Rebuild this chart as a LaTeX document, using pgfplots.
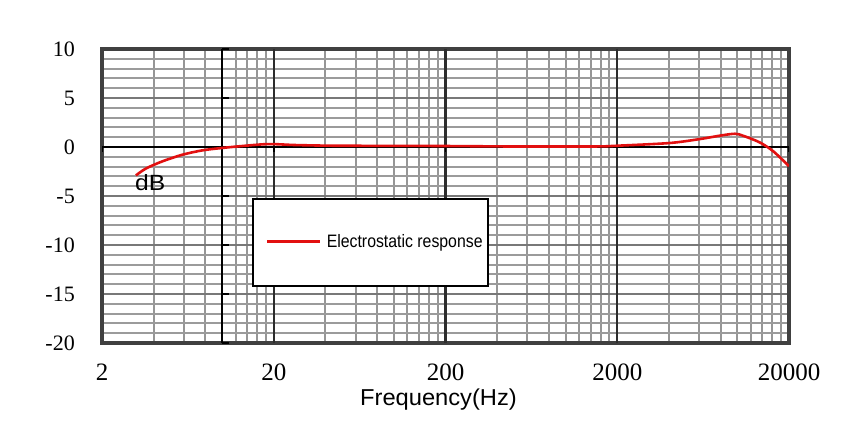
\documentclass[border=0pt]{standalone}
\usepackage{fontspec}
\setmainfont{Liberation Serif}
\newfontfamily\arialF{Liberation Sans}[FakeStretch=1.03]
\newfontfamily\arialW{Liberation Sans}[FakeStretch=1.12]
\newfontfamily\arialN{Liberation Sans}[FakeStretch=0.88]
\usepackage{pgfplots}
\pgfplotsset{compat=1.18}
\definecolor{curvered}{RGB}{226,16,16}
\definecolor{framegray}{RGB}{64,64,64}
\definecolor{majx}{RGB}{45,45,45}
\definecolor{minx}{RGB}{150,150,150}
\definecolor{majy}{RGB}{120,120,120}
\definecolor{miny}{RGB}{155,155,155}
\begin{document}
\begin{tikzpicture}
\useasboundingbox (0,0) rectangle (854pt,437pt);
\begin{axis}[
  at={(102pt,94pt)}, anchor=south west,
  scale only axis, width=687pt, height=294pt,
  xmode=log, xmin=2, xmax=20000, ymin=-20, ymax=10,
  xtick={2,20,200,2000,20000},
  xticklabels={2,20,200,2000,20000},
  minor xtick={4,6,8,10,12,14,16,18,40,60,80,100,120,140,160,180,400,600,800,1000,1200,1400,1600,1800,4000,6000,8000,10000,12000,14000,16000,18000},
  ytick={-20,-15,-10,-5,0,5,10},
  minor ytick={-19,-18,-17,-16,-14,-13,-12,-11,-9,-8,-7,-6,-4,-3,-2,-1,1,2,3,4,6,7,8,9},
  grid=both,
  major x grid style={draw=none},
  minor x grid style={draw=minx, line width=2pt},
  major y grid style={draw=majy, line width=2pt},
  minor y grid style={draw=miny, line width=2pt},
  major tick length=0pt, minor tick length=0pt,
  tick style={draw=none},
  axis line style={draw=framegray, line width=4pt},
  /pgf/number format/assume math mode=true,
  xticklabel style={font=\fontsize{25}{30}\selectfont, anchor=base, yshift=-37pt, inner sep=0pt},
  yticklabel style={font=\fontsize{22}{26}\selectfont, anchor=east, xshift=-27pt, inner sep=0pt},
  xlabel={Frequency(Hz)},
  xlabel style={at={(axis description cs:0.4898,0)}, anchor=base, yshift=-62pt, inner sep=0pt, font=\arialF\fontsize{23}{27}\selectfont},
  legend style={draw=none, fill=none, inner sep=0pt, at={(0.2387,0.3446)}, anchor=west,
    nodes={inner sep=0pt, font=\arialN\fontsize{18}{22}\selectfont},
    /tikz/every odd column/.append style={column sep=5pt}},
  legend image code/.code={\draw[#1, line width=2.6pt] (0pt,0pt) -- (53pt,0pt);},
]
% decade grid lines on top of the fine grid
\draw[majx, line width=2.2pt] (axis cs:20,-20) -- (axis cs:20,10);
\draw[majx, line width=2.2pt] (axis cs:200,-20) -- (axis cs:200,10);
\draw[majx, line width=2.2pt] (axis cs:2000,-20) -- (axis cs:2000,10);
% axis lines crossing at x=10 and y=0
\draw[black, line width=1.5pt] (axis cs:2,0) -- (axis cs:20000,0);
\draw[black, line width=1.5pt] (axis cs:2,0) -- ++(0pt,-5pt);
\draw[black, line width=1.5pt] (axis cs:20,0) -- ++(0pt,-5pt);
\draw[black, line width=1.5pt] (axis cs:200,0) -- ++(0pt,-5pt);
\draw[black, line width=1.5pt] (axis cs:20000,0) -- ++(0pt,-5pt);
\draw[black, line width=1.5pt] (axis cs:10,-20) -- (axis cs:10,10);
\draw[black, line width=1.5pt] (axis cs:10,10) -- ++(7pt,0pt);
\draw[black, line width=1.5pt] (axis cs:10,5) -- ++(7pt,0pt);
\draw[black, line width=1.5pt] (axis cs:10,-5) -- ++(7pt,0pt);
\draw[black, line width=1.5pt] (axis cs:10,-10) -- ++(7pt,0pt);
\draw[black, line width=1.5pt] (axis cs:10,-15) -- ++(7pt,0pt);
\draw[black, line width=1.5pt] (axis cs:10,-20) -- ++(7pt,0pt);
\addplot[curvered, line width=2.6pt, smooth, tension=0.5] coordinates {
(3.15,-2.9) (3.6,-2.2) (4.5,-1.46) (5.9,-0.78) (7.7,-0.34) (10,-0.1)
(13.7,0.13) (18.8,0.3) (26.8,0.2) (45,0.13) (100,0.12) (200,0.1)
(500,0.05) (1000,0.05) (1600,0.06) (2000,0.13) (4000,0.4) (6000,0.8)
(8000,1.17) (9700,1.35) (10800,1.15) (13500,0.47) (16200,-0.44) (20000,-1.96)
};
\addlegendentry{Electrostatic response}
\draw[black, line width=1.8pt, fill=white] (rel axis cs:0.2198,0.1939) rectangle (rel axis cs:0.5619,0.4898);
\node[anchor=base west, inner sep=0pt, font=\arialW\fontsize{22}{26}\selectfont] at (axis cs:3.11,-4.46) {dB};
\end{axis}
\end{tikzpicture}
\end{document}
